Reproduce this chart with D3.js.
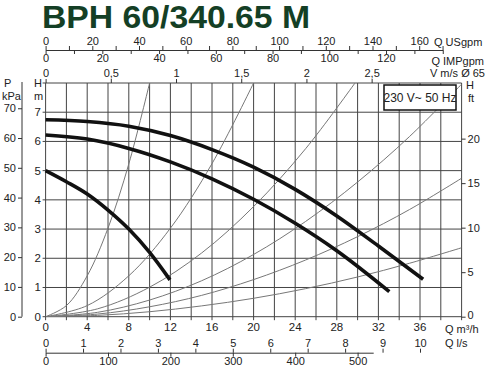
<!DOCTYPE html>
<html>
<head>
<meta charset="utf-8">
<script src="https://cdn.jsdelivr.net/npm/d3@7/dist/d3.min.js"></script>
<style>
  body { margin: 0; background: #fff; }
  svg text { font-family: "Liberation Sans", Arial, sans-serif; fill: #222; }
</style>
</head>
<body>
<svg id="chart" width="485" height="371"></svg>
<script>
// pump curves, Q in m3/h, H in m
const curveTopQ = [0, 4, 8, 12, 16, 20, 24, 28, 32, 36.3];
const curveTopH = [6.74, 6.68, 6.52, 6.2, 5.72, 5.12, 4.36, 3.45, 2.42, 1.28];
const curveMidQ = [0, 4, 8, 12, 16, 20, 24, 28, 33.05];
const curveMidH = [6.22, 6.08, 5.76, 5.30, 4.72, 4.02, 3.20, 2.26, 0.86];
const curveLowQ = [0, 2, 4, 6, 8, 10, 11.96];
const curveLowH = [5.0, 4.62, 4.2, 3.65, 3.0, 2.2, 1.26];

// thin system curves (Q, H pairs)
const sysCurves = [
  [[0, 0], [2, 0.38], [4, 1.40], [6, 3.03], [8, 5.23], [10, 8.0]],
  [[0, 0], [4, 0.38], [8, 1.40], [12, 3.03], [16, 5.24], [20, 8.0]],
  [[0, 0], [5, 0.27], [10, 1.01], [15, 2.18], [20, 3.77], [25, 5.75], [29.75, 8.0]],
  [[0, 0], [5, 0.15], [10, 0.57], [15, 1.23], [20, 2.13], [25, 3.26], [30, 4.61], [35, 6.17], [40, 7.96]],
  [[0, 0], [5, 0.09], [10, 0.34], [15, 0.73], [20, 1.27], [25, 1.94], [30, 2.74], [35, 3.67], [40, 4.74]],
  [[0, 0], [5, 0.045], [10, 0.17], [15, 0.37], [20, 0.63], [25, 0.96], [30, 1.36], [35, 1.83], [40, 2.36]]
];

const qTicks = [0, 4, 8, 12, 16, 20, 24, 28, 32, 36];
const hTicks = [0, 1, 2, 3, 4, 5, 6, 7];
const kpaTicks = [0, 10, 20, 30, 40, 50, 60, 70];
const ftTicks = [0, 5, 10, 15, 20];
const usTicks = [0, 20, 40, 60, 80, 100, 120, 140, 160];
const impTicks = [0, 20, 40, 60, 80, 100, 120];
const vTicks = [0, 0.5, 1, 1.5, 2, 2.5];
const lsTicks = [0, 1, 2, 3, 4, 5, 6, 7, 8, 9, 10];
const lminTicks = [0, 100, 200, 300, 400, 500];

const svg = d3.select("#chart");

const x = d3.scaleLinear().domain([0, 40]).range([45.6, 461.6]);
const y = d3.scaleLinear().domain([0, 8]).range([316.7, 83]);

// secondary scales (unit conversions, as printed)
const xUS = d3.scaleLinear().domain([0, 170]).range([x(0), x(0) + 170 * 2.335]);
const xIMP = d3.scaleLinear().domain([0, 140]).range([x(0), x(140 / 3.666)]);
const xV = d3.scaleLinear().domain([0, 40 / 12.54]).range(x.range());
const xLs = d3.scaleLinear().domain([0, 40 / 3.6]).range(x.range());
const xLmin = d3.scaleLinear().domain([0, 525]).range([x(0), x(525 * 0.06)]);
const yKpa = d3.scaleLinear().domain([0, 8 * 9.81]).range(y.range());
const yFt = d3.scaleLinear().domain([0, 8 * 3.281]).range(y.range());

const fmtComma = d => String(d).replace('.', ',');

// title
svg.append("text")
   .attr("x", 42).attr("y", 28)
   .attr("textLength", 268).attr("lengthAdjust", "spacingAndGlyphs")
   .style("font-size", "31px").style("font-weight", "bold")
   .style("fill", "#143f25")
   .text("BPH 60/340.65 M");

// grid
const grid = svg.append("g").attr("stroke", "#444").attr("stroke-width", 1);
grid.selectAll(".vg").data(d3.range(0, 41, 2)).enter().append("line")
    .attr("x1", d => x(d)).attr("x2", d => x(d))
    .attr("y1", y(8)).attr("y2", y(0) + 3.5);
grid.selectAll(".hg").data(d3.range(0, 9, 1)).enter().append("line")
    .attr("x1", x(0) - 3).attr("x2", x(40))
    .attr("y1", d => y(d)).attr("y2", d => y(d));

// system curves
svg.append("clipPath").attr("id", "plot-clip").append("rect")
   .attr("x", x(0)).attr("y", y(8)).attr("width", x(40) - x(0)).attr("height", y(0) - y(8));

const sysLine = d3.line().x(d => x(d[0])).y(d => y(d[1])).curve(d3.curveCatmullRom);
svg.append("g").attr("clip-path", "url(#plot-clip)")
   .selectAll("path").data(sysCurves).enter().append("path")
   .attr("d", sysLine)
   .attr("fill", "none").attr("stroke", "#777").attr("stroke-width", 1);

// pump curves
const pumpLine = d3.line().x(d => x(d[0])).y(d => y(d[1])).curve(d3.curveMonotoneX);
[[curveTopQ, curveTopH], [curveMidQ, curveMidH], [curveLowQ, curveLowH]].forEach(([qs, hs]) => {
    svg.append("path")
       .attr("d", pumpLine(qs.map((q, i) => [q, hs[i]])))
       .attr("fill", "none").attr("stroke", "#111").attr("stroke-width", 3.6)
       .attr("stroke-linecap", "butt");
});

// voltage box
svg.append("rect").attr("x", 384).attr("y", 85).attr("width", 72).attr("height", 25)
   .attr("fill", "#fff").attr("stroke", "#111").attr("stroke-width", 1.5);
svg.append("text").attr("x", 420).attr("y", 102).attr("text-anchor", "middle")
   .style("font-size", "12px")
   .text("230 V~ 50 Hz");

function styleAxis(g) {
    g.selectAll("text").style("font-size", "11px").style("font-family", null).attr("fill", "#222");
    g.selectAll("line, path").attr("stroke", "#333");
}

// left H m labels
svg.append("g").selectAll("text").data(hTicks).enter().append("text")
   .attr("x", 41).attr("y", d => y(d) + 4).attr("text-anchor", "end")
   .style("font-size", "11.5px").text(d => d);

// P kPa axis
svg.append("g").attr("transform", "translate(22,0)")
   .call(d3.axisLeft(yKpa).tickValues(kpaTicks).tickSize(4).tickPadding(2).tickSizeOuter(0))
   .call(styleAxis)
   .call(g => g.select(".domain").attr("d", `M0,${y(8) - 1}V${y(0)}`));

// right H ft axis
svg.append("g").attr("transform", `translate(${x(40)},0)`)
   .call(d3.axisRight(yFt).tickValues(ftTicks).tickSize(4).tickPadding(2).tickSizeOuter(0))
   .call(styleAxis)
   .call(g => g.select(".domain").remove())
   .call(g => g.selectAll(".tick text").filter(d => d === 0).attr("dy", "0.2em"));

// top: USgpm (up) and IMPgpm (down) on one line
svg.append("g").attr("transform", "translate(0,50)")
   .call(d3.axisTop(xUS).tickValues(d3.range(0, 171, 10)).tickSize(4).tickPadding(1)
         .tickFormat(d => usTicks.includes(d) ? d : "").tickSizeOuter(0))
   .call(styleAxis);
svg.append("g").attr("transform", "translate(0,50)")
   .call(d3.axisBottom(xIMP).tickValues(d3.range(0, 141, 10)).tickSize(4).tickPadding(0)
         .tickFormat(d => impTicks.includes(d) ? d : "").tickSizeOuter(0))
   .call(styleAxis)
   .call(g => g.select(".domain").remove());

// top: velocity
svg.append("g").attr("transform", `translate(0,${y(8)})`)
   .call(d3.axisTop(xV).tickValues(vTicks).tickSize(4).tickPadding(2).tickFormat(fmtComma).tickSizeOuter(0))
   .call(styleAxis)
   .call(g => g.select(".domain").remove());

// bottom Q m3/h labels
svg.append("g").selectAll("text").data(qTicks).enter().append("text")
   .attr("x", d => x(d)).attr("y", 331).attr("text-anchor", "middle")
   .style("font-size", "11.5px").text(d => d);

// bottom: l/s (up) and l/min (down) on one line
svg.append("g").attr("transform", "translate(0,352.7)")
   .call(d3.axisTop(xLs).tickValues(lsTicks).tickSize(4).tickPadding(2).tickSizeOuter(0))
   .call(styleAxis)
   .call(g => g.select(".domain").remove());
svg.append("g").attr("transform", "translate(0,352.7)")
   .call(d3.axisBottom(xLmin).tickValues(lminTicks).tickSize(4).tickPadding(1).tickSizeOuter(0))
   .call(styleAxis);

// unit labels
const lbl = (tx, ty, t, anchor) => svg.append("text").attr("x", tx).attr("y", ty)
    .attr("text-anchor", anchor || "start").style("font-size", "11px").text(t);
lbl(434, 46, "Q USgpm");
lbl(484, 64.5, "Q IMPgpm", "end");
lbl(485, 77, "V m/s Ø 65", "end");
lbl(445, 333, "Q m³/h");
lbl(445, 347, "Q l/s");
lbl(4, 87, "P");
lbl(2, 99.5, "kPa");
lbl(34, 87, "H");
lbl(34, 99.5, "m");

// right unit: H over ft in one text
const ftLabel = svg.append("text").style("font-size", "11px");
ftLabel.append("tspan").attr("x", 466).attr("y", 89).text("H");
ftLabel.append("tspan").attr("x", 468).attr("dy", 12.5).text("ft");
</script>
</body>
</html>
